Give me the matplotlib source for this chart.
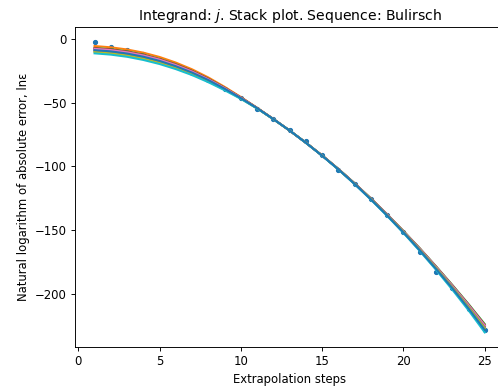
import numpy as np
import matplotlib
matplotlib.use("Agg")
import matplotlib.pyplot as plt

# extrapolation step index
steps = np.arange(1, 26)

# ln of absolute error per step (scatter)
ln_err = [-1.8, -5.8, -8.7, -11.9, -16.1, -20.9, -26.2, -32.4, -39.0, -46.3,
          -54.6, -62.5, -71.7, -80.2, -91.4, -102.7, -114.0, -125.6, -138.0,
          -151.9, -167.6, -183.4, -196.0, -212.0, -228.6]

# stacked fitted curves, one per run
fits = [
    [-8.8, -9.8, -11.5, -14.0, -17.3, -21.4, -26.4, -32.3, -39.0, -46.3, -54.3, -62.8, -71.8,
     -81.5, -91.6, -102.4, -113.9, -126.0, -138.7, -152.1, -166.1, -180.7, -196.1, -212.2, -229.2],
    [-5.3, -6.3, -8.0, -10.5, -13.9, -18.3, -23.6, -30.0, -37.4, -45.4, -53.9, -62.7, -71.8,
     -81.4, -91.5, -102.1, -113.5, -125.5, -138.0, -151.2, -164.9, -179.3, -194.1, -209.6, -225.8],
    [-6.8, -7.8, -9.5, -12.0, -15.4, -19.6, -24.8, -31.0, -38.1, -45.8, -54.0, -62.7, -71.8,
     -81.3, -91.4, -102.0, -113.3, -125.2, -137.7, -150.8, -164.3, -178.5, -193.1, -208.2, -224.0],
    [-7.1, -8.1, -9.8, -12.3, -15.7, -19.9, -25.0, -31.2, -38.3, -45.9, -54.1, -62.7, -71.8,
     -81.4, -91.4, -102.1, -113.4, -125.3, -137.9, -151.0, -164.6, -178.8, -193.6, -208.8, -224.8],
    [-8.0, -9.0, -10.7, -13.2, -16.5, -20.7, -25.8, -31.8, -38.7, -46.1, -54.2, -62.8, -71.8,
     -81.4, -91.5, -102.2, -113.5, -125.5, -138.1, -151.3, -165.0, -179.3, -194.3, -209.7, -226.0],
    [-7.3, -8.3, -10.0, -12.5, -15.9, -20.1, -25.2, -31.4, -38.4, -46.0, -54.1, -62.8, -71.8,
     -81.4, -91.5, -102.1, -113.5, -125.4, -138.0, -151.1, -164.8, -179.1, -193.9, -209.3, -225.4],
    [-7.5, -8.5, -10.2, -12.7, -16.0, -20.3, -25.4, -31.5, -38.4, -46.0, -54.1, -62.8, -71.8,
     -81.4, -91.4, -102.1, -113.5, -125.4, -137.9, -151.1, -164.7, -179.0, -193.8, -209.1, -225.2],
    [-9.5, -10.5, -12.2, -14.7, -17.9, -22.1, -27.0, -32.8, -39.3, -46.5, -54.3, -62.9, -71.8,
     -81.4, -91.5, -102.2, -113.6, -125.6, -138.2, -151.4, -165.2, -179.6, -194.6, -210.2, -226.6],
    [-10.1, -11.1, -12.8, -15.3, -18.5, -22.6, -27.4, -33.2, -39.6, -46.7, -54.4, -62.9, -71.8,
     -81.4, -91.5, -102.3, -113.7, -125.7, -138.4, -151.6, -165.5, -179.9, -195.1, -210.8, -227.4],
    [-11.1, -12.1, -13.8, -16.3, -19.5, -23.5, -28.2, -33.8, -40.1, -46.9, -54.5, -62.9, -71.8,
     -81.5, -91.7, -102.5, -114.0, -126.2, -139.0, -152.4, -166.5, -181.3, -196.9, -213.2, -230.6],
    [-8.5, -9.5, -11.2, -13.7, -17.0, -21.2, -26.2, -32.1, -38.9, -46.3, -54.2, -62.8, -71.8,
     -81.4, -91.6, -102.3, -113.8, -125.9, -138.6, -151.9, -165.9, -180.5, -195.7, -211.7, -228.6],
]

DPI = 84
fig = plt.figure(figsize=(498 / DPI, 392 / DPI), dpi=DPI)
ax = fig.add_axes([0.1506, 0.1148, 0.862, 0.8163])

ax.scatter(steps, ln_err, s=12)
for f in fits:
    ax.plot(steps, f, lw=1.7)

ax.set_title("Integrand: $j$. Stack plot. Sequence: Bulirsch")
ax.set_xlabel("Extrapolation steps")
ax.set_ylabel("Natural logarithm of absolute error, lnε")

fig.savefig("out.png", dpi=DPI)
